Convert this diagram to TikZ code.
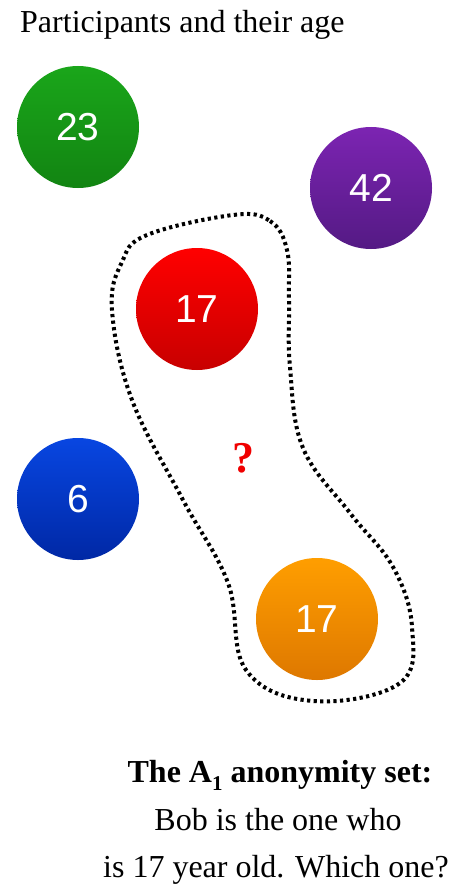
\documentclass[tikz,border=0pt]{standalone}
\usepackage{fontspec}
\setmainfont{Liberation Serif}
\newfontfamily\numfont{Liberation Sans}
\begin{document}
\begin{tikzpicture}[x=1pt,y=-1pt,
  ball/.style={circle, minimum size=122pt, inner sep=0pt, text=white,
    font=\numfont\fontsize{39}{39}\selectfont},
  txt/.style={font=\fontsize{32}{32}\selectfont, inner sep=0pt}]
\useasboundingbox (0,0) rectangle (455,888);
\fill[white] (0,0) rectangle (455,888);
% anonymity set outline
\draw[line width=4pt, dash pattern=on 3.2pt off 3.4pt] plot[smooth cycle, tension=0.65] coordinates {
  (233,215) (270,221) (287,250) (289,300) (290,367) (303,448) (350,513)
  (393,567) (412,627) (400,683) (313,701) (246,670) (228,583) (183,500)
  (132,400) (112,310) (122,262) (147,235)};
\node[ball, top color={rgb,255:red,26;green,166;blue,26}, bottom color={rgb,255:red,18;green,132;blue,18}] (p23) at (78,127) {23};
\node[ball, top color={rgb,255:red,124;green,36;blue,178}, bottom color={rgb,255:red,84;green,26;blue,132}] (p42) at (371,188) {42};
\node[ball, top color={rgb,255:red,255;green,0;blue,0}, bottom color={rgb,255:red,200;green,0;blue,0}] (p17a) at (197,309) {17};
\node[ball, top color={rgb,255:red,8;green,70;blue,225}, bottom color={rgb,255:red,0;green,40;blue,165}] (p6) at (78,499) {6};
\node[ball, top color={rgb,255:red,255;green,158;blue,0}, bottom color={rgb,255:red,222;green,120;blue,0}] (p17b) at (317,619) {17};
\node[text={rgb,255:red,240;green,0;blue,0}, font=\bfseries\fontsize{44}{44}\selectfont, inner sep=0pt] (q) at (243,458) {?};
\node[txt, anchor=base west] (title) at (20,33) {Participants and their age};
\node[txt, anchor=base, font=\bfseries\fontsize{32}{32}\selectfont] (l1) at (280,782) {The A\raisebox{-0.28em}{\fontsize{21}{21}\selectfont 1} anonymity set:};
\node[txt, anchor=base] (l2) at (278,830) {Bob is the one who};
\node[txt, anchor=base] (l3) at (276,877) {is 17 year old. Which one?};
\end{tikzpicture}
\end{document}
